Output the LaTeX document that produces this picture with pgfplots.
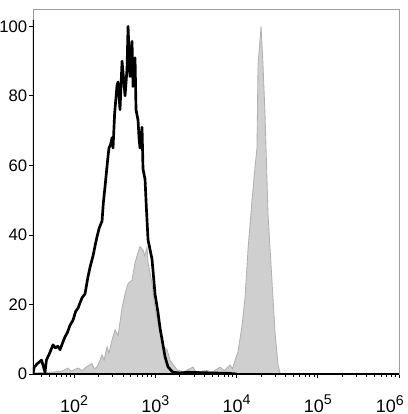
\documentclass[border=0pt]{standalone}
\usepackage{pgfplots}
\pgfplotsset{compat=1.18}
\usepackage{fontspec}
\setmainfont{Liberation Sans}
\newcommand{\expo}[1]{\raisebox{0.75ex}{\fontsize{8.5}{9}\selectfont #1}}
\begin{document}
\begin{tikzpicture}
\begin{axis}[
  scale only axis,
  width=219.6pt, height=219pt,
  xmin=1.495, xmax=6, ymin=0, ymax=105,
  axis line style={draw=gray!75, line width=0.5pt},
  tick align=outside,
  major tick length=2.2pt, minor tick length=1.5pt,
  tick style={black, line width=0.5pt},
  xtick={2,3,4,5,6},
  xticklabels={10\expo{2},10\expo{3},10\expo{4},10\expo{5},\hspace{-11pt}10\expo{6}},
  minor xtick={1.602,1.699,1.778,1.845,1.903,1.954,
    2.301,2.477,2.602,2.699,2.778,2.845,2.903,2.954,
    3.301,3.477,3.602,3.699,3.778,3.845,3.903,3.954,
    4.301,4.477,4.602,4.699,4.778,4.845,4.903,4.954,
    5.301,5.477,5.602,5.699,5.778,5.845,5.903,5.954},
  ytick={0,20,40,60,80,100},
  xtick pos=bottom, ytick pos=left,
  /pgf/number format/assume math mode=true,
  xticklabel style={font=\fontsize{10.8}{12}\selectfont, yshift=-7pt},
  yticklabel style={font=\fontsize{10}{12}\selectfont, xshift=2.2pt},
  clip=true,
]
\addplot[fill=gray!38, draw=gray!62, line width=0.5pt] table {
x y
1.495 0.3
1.70 0.5
1.85 0.8
1.926 1.7
1.96 0.8
2.049 1.7
2.10 1.0
2.15 2.0
2.222 3.0
2.25 1.5
2.283 2.0
2.32 4.0
2.345 5.5
2.37 4.0
2.406 7.8
2.43 6.0
2.468 9.8
2.505 12.7
2.542 11.0
2.591 19.0
2.628 23.0
2.665 26.0
2.714 27.0
2.751 32.0
2.788 35.0
2.812 36.6
2.849 35.7
2.87 34.0
2.898 36.3
2.911 32.0
2.96 26.0
2.997 19.0
3.034 14.7
3.083 10.0
3.095 7.8
3.145 7.0
3.182 4.0
3.268 1.2
3.35 0.6
3.465 2.0
3.50 0.6
3.637 1.0
3.70 0.5
3.797 2.0
3.85 1.0
3.92 2.6
3.95 1.5
3.982 4.0
4.018 6.3
4.068 14.0
4.105 22.0
4.142 36.0
4.191 50.0
4.23 60.0
4.252 65.0
4.265 89.0
4.302 100.0
4.326 89.0
4.351 74.6
4.388 45.8
4.437 26.5
4.474 12.0
4.511 2.6
4.535 0.3
4.60 0
6.0 0
} \closedcycle;
\addplot[black, line width=1.6pt, line join=round] table {
x y
1.495 0
1.51 2.0
1.55 3.0
1.60 4.0
1.643 0.5
1.66 4.0
1.70 6.0
1.742 8.4
1.77 7.5
1.80 8.0
1.828 7.0
1.86 9.0
1.889 10.7
1.92 12.0
1.95 14.0
1.988 15.5
2.02 18.0
2.05 19.0
2.074 20.5
2.10 22.0
2.135 23.0
2.172 28.0
2.20 31.0
2.234 34.0
2.26 37.0
2.283 39.5
2.31 42.0
2.345 44.0
2.36 49.0
2.382 54.0
2.406 59.7
2.418 62.5
2.43 65.0
2.45 66.0
2.468 68.0
2.48 65.0
2.50 75.0
2.529 83.0
2.542 84.0
2.566 76.0
2.591 90.0
2.61 85.0
2.628 80.0
2.652 87.6
2.665 100.0
2.689 85.6
2.714 95.7
2.726 82.7
2.751 91.0
2.763 76.0
2.788 73.0
2.80 68.0
2.812 65.0
2.837 71.0
2.849 59.0
2.874 56.0
2.89 48.0
2.911 38.6
2.96 33.0
2.997 23.0
3.034 17.6
3.06 13.0
3.083 10.0
3.12 5.0
3.157 2.0
3.218 0.5
3.30 0.3
3.40 0.5
3.55 0.4
3.70 0.3
3.90 0.2
4.00 0
};
\draw[black, line width=1.3pt] (rel axis cs:0,0.97) -- (rel axis cs:0,0) -- (rel axis cs:1,0);
\end{axis}
\pgfresetboundingbox
\path[use as bounding box] ([xshift=-19.8pt,yshift=-24pt]current axis.south west) rectangle ([xshift=4.8pt,yshift=5.4pt]current axis.north east);
\end{tikzpicture}
\end{document}
